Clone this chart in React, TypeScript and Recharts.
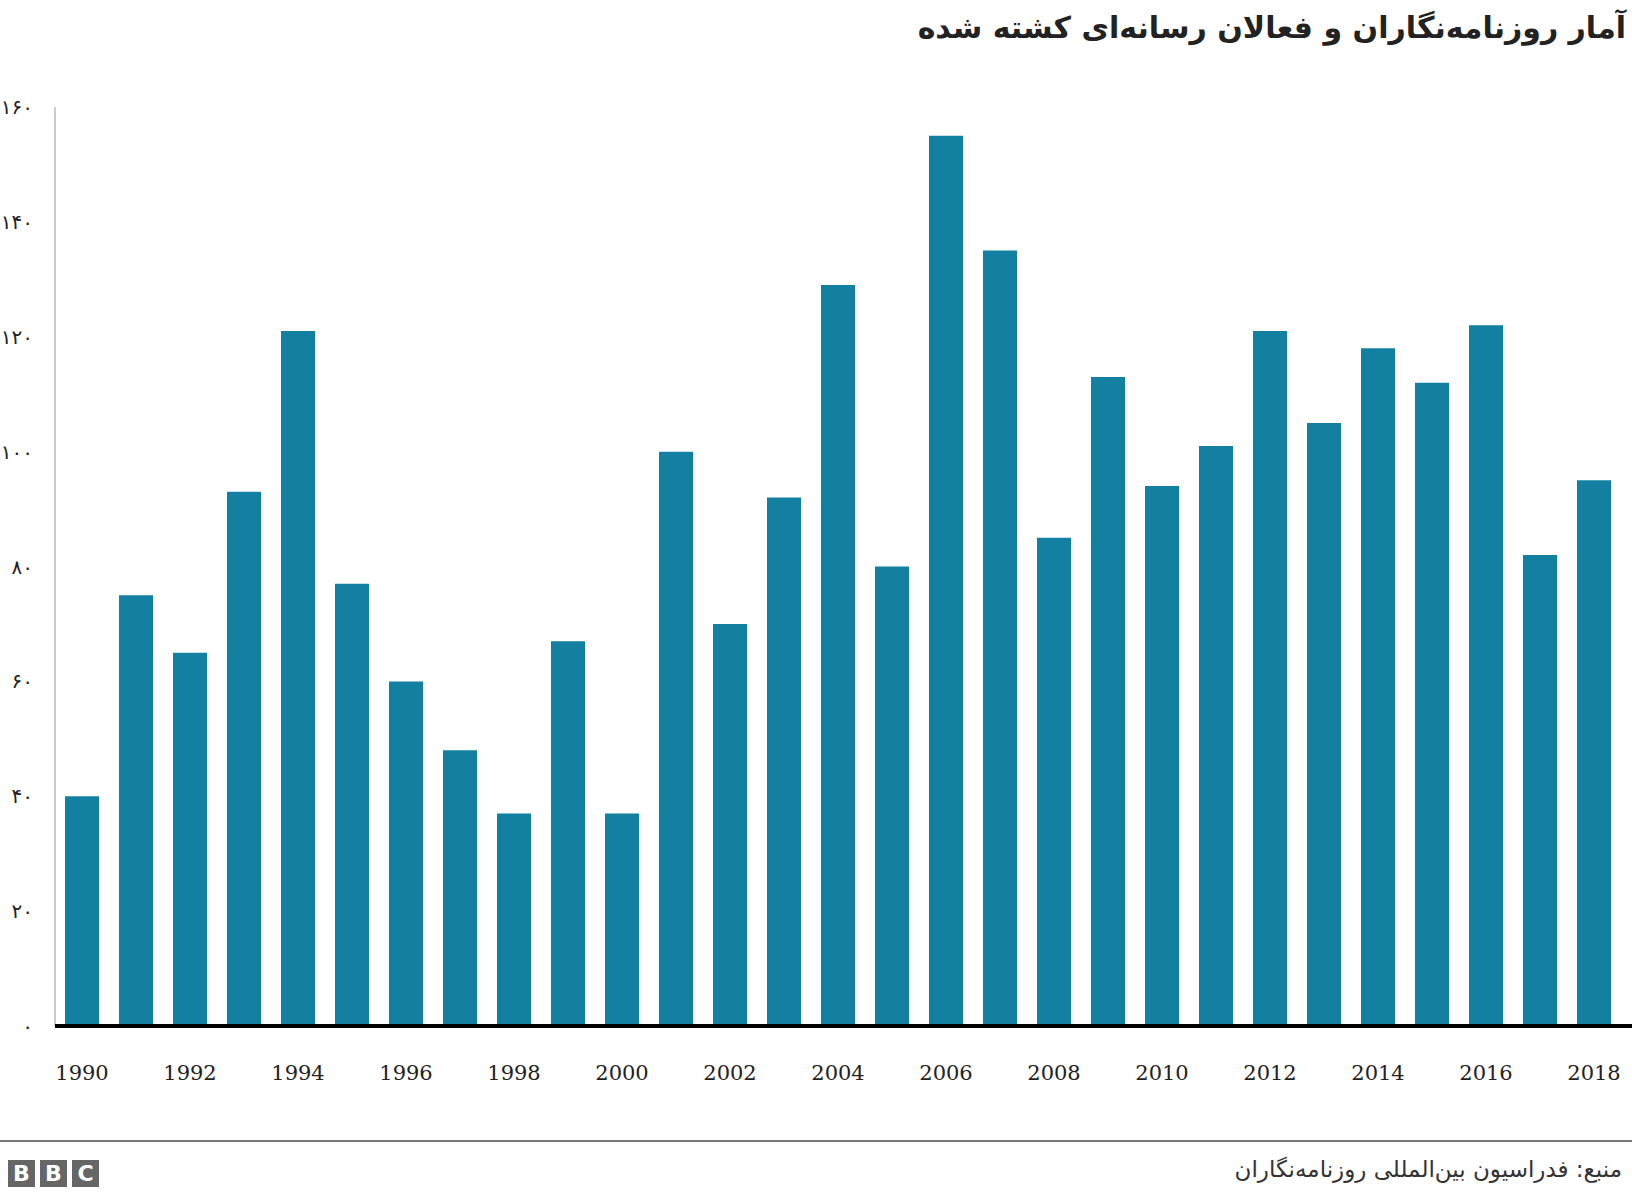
import React from 'react';
import { BarChart, Bar, XAxis, YAxis } from 'recharts';

const years: string[] = [
  '1990','1991','1992','1993','1994','1995','1996','1997','1998','1999',
  '2000','2001','2002','2003','2004','2005','2006','2007','2008','2009',
  '2010','2011','2012','2013','2014','2015','2016','2017','2018',
];
const killed: number[] = [
  40, 75, 65, 93, 121, 77, 60, 48, 37, 67,
  37, 100, 70, 92, 129, 80, 155, 135, 85, 113,
  94, 101, 121, 105, 118, 112, 122, 82, 95,
];
const yTicks: number[] = [0, 20, 40, 60, 80, 100, 120, 140, 160];
const yTickLabels: string[] = ['۰', '۲۰', '۴۰', '۶۰', '۸۰', '۱۰۰', '۱۲۰', '۱۴۰', '۱۶۰'];

const title = 'آمار روزنامه‌نگاران و فعالان رسانه‌ای کشته شده';
const source = 'منبع: فدراسیون بین‌المللی روزنامه‌نگاران';

const data = years.map((y, i) => ({ year: y, value: killed[i] }));

const BAR_COLOR = '#1380a1';

export default function App() {
  return (
    <div
      style={{
        position: 'absolute',
        left: 0,
        top: 0,
        width: 1632,
        height: 1198,
        background: '#fff',
        overflow: 'hidden',
      }}
    >
      <div
        style={{
          position: 'absolute',
          right: 6,
          top: 10,
          direction: 'rtl',
          fontFamily: '"DejaVu Sans", sans-serif',
          fontWeight: 'bold',
          fontSize: 30,
          color: '#222',
          whiteSpace: 'nowrap',
        }}
      >
        {title}
      </div>
      <div style={{ position: 'absolute', left: 0, top: 0 }}>
        <BarChart
          width={1632}
          height={1100}
          data={data}
          margin={{ top: 107, right: 0, bottom: 0, left: 0 }}
          barSize={34}
        >
          <YAxis
            width={55}
            domain={[0, 160]}
            ticks={yTicks}
            interval={0}
            tickLine={false}
            axisLine={{ stroke: '#cccccc', strokeWidth: 2 }}
            tickMargin={16}
            tickFormatter={(v: number) => yTickLabels[yTicks.indexOf(v)] ?? String(v)}
            tick={{ fill: '#222', fontSize: 20, fontFamily: '"DejaVu Sans", sans-serif' }}
          />
          <XAxis
            dataKey="year"
            height={74}
            interval={1}
            tickLine={false}
            padding={{ left: 0, right: 11 }}
            axisLine={{ stroke: '#000', strokeWidth: 4 }}
            tickMargin={33}
            tick={{ fill: '#222', fontSize: 21, fontFamily: '"DejaVu Serif", serif' }}
          />
          <Bar dataKey="value" fill={BAR_COLOR} isAnimationActive={false} />
        </BarChart>
      </div>
      <div
        style={{
          position: 'absolute',
          left: 0,
          top: 1140,
          width: 1632,
          height: 2,
          background: '#777',
        }}
      />
      <div style={{ position: 'absolute', left: 8, top: 1160, display: 'flex', gap: 5 }}>
        {['B', 'B', 'C'].map((ch, i) => (
          <div
            key={i}
            style={{
              width: 27,
              height: 27,
              background: '#666',
              color: '#fff',
              fontFamily: '"DejaVu Sans", sans-serif',
              fontWeight: 'bold',
              fontSize: 22,
              lineHeight: '27px',
              textAlign: 'center',
            }}
          >
            {ch}
          </div>
        ))}
      </div>
      <div
        style={{
          position: 'absolute',
          right: 10,
          top: 1156,
          direction: 'rtl',
          fontFamily: '"DejaVu Sans", sans-serif',
          fontSize: 23,
          color: '#333',
          whiteSpace: 'nowrap',
        }}
      >
        {source}
      </div>
    </div>
  );
}
